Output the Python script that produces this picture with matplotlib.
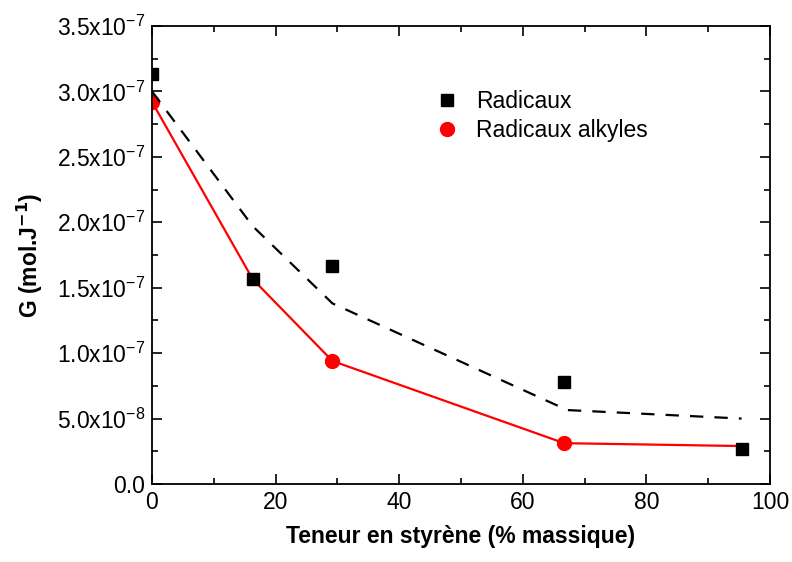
import math
import matplotlib
matplotlib.use("Agg")
import matplotlib.pyplot as plt
from matplotlib.ticker import MultipleLocator, FuncFormatter
from matplotlib.lines import Line2D

plt.rcParams['font.family'] = ['Liberation Sans', 'DejaVu Sans']
plt.rcParams['mathtext.default'] = 'regular'

x_pts = [0, 16.3, 29.2, 66.7, 95.4]
radicaux = [3.13e-7, 1.565e-7, 1.665e-7, 0.78e-7, 0.268e-7]
alkyles = [2.92e-7, 1.565e-7, 0.94e-7, 0.312e-7, 0.29e-7]
alkyles_marked = [0, 2, 3]
fit_x = [0, 16.3, 29.2, 67.2, 95.4]
fit_radicaux = [3.0e-7, 1.97e-7, 1.38e-7, 0.565e-7, 0.50e-7]

FS = 16.5

fig = plt.figure(figsize=(7.92, 5.62), dpi=100)
ax = fig.add_axes([152/792, 1-484/562, (770-152)/792, (484-26)/562])

ax.plot(x_pts, alkyles, color='red', lw=1.6, zorder=2, marker='o', ms=10,
        markevery=alkyles_marked)
ax.plot(fit_x, fit_radicaux, color='black', lw=1.6, dashes=(6, 5), zorder=2)
ax.plot(x_pts, radicaux, 's', color='black', ms=9, zorder=4)

ax.set_xlim(0, 100)
ax.set_ylim(0, 3.5e-7)
ax.xaxis.set_major_locator(MultipleLocator(20))
ax.xaxis.set_minor_locator(MultipleLocator(10))
ax.yaxis.set_major_locator(MultipleLocator(0.5e-7))
ax.yaxis.set_minor_locator(MultipleLocator(0.25e-7))

def yfmt(v, pos):
    if abs(v) < 1e-12:
        return '0.0'
    e = int(math.floor(math.log10(abs(v)) + 1e-9))
    m = v / 10**e
    return r'%.1fx10$^{%d}$' % (m, e)

ax.yaxis.set_major_formatter(FuncFormatter(yfmt))
ax.tick_params(which='both', direction='in', top=True, right=True, labelsize=FS, width=1.2)
ax.tick_params(which='major', length=7, pad=5)
ax.tick_params(which='minor', length=4)
for s in ax.spines.values():
    s.set_linewidth(1.3)

ax.set_xlabel('Teneur en styrène (% massique)', fontsize=FS, fontweight='bold', labelpad=8)
ax.set_ylabel(r'G (mol.J$^{\mathbf{-1}}$)', fontsize=FS, fontweight='bold', labelpad=8)

handles = [Line2D([], [], ls='none', marker='s', color='black', ms=9),
           Line2D([], [], ls='none', marker='o', color='red', ms=10)]
ax.legend(handles, ['Radicaux', 'Radicaux alkyles'], loc='upper left',
          bbox_to_anchor=(0.421, 0.905), frameon=False, fontsize=FS,
          handletextpad=0.7, labelspacing=0.25, handlelength=1.2)

fig.savefig('out.png', dpi=100)
